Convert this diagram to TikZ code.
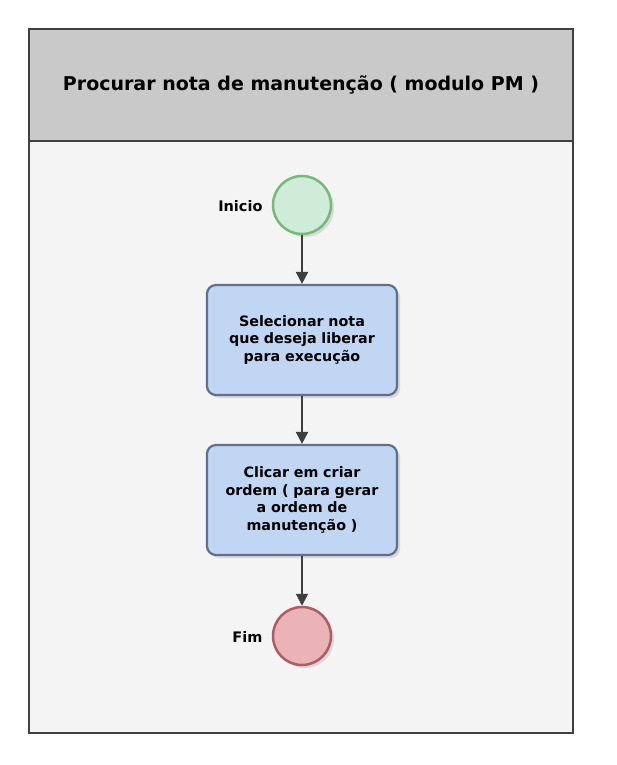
\documentclass[tikz,border=0pt]{standalone}
\usepackage{fontspec}
\setmainfont{DejaVu Sans}
\usepackage{tikz}
\usetikzlibrary{arrows.meta,shadows}
\definecolor{poolline}{RGB}{64,64,64}
\definecolor{poolfill}{RGB}{244,244,244}
\definecolor{headfill}{RGB}{201,201,201}
\definecolor{startfill}{RGB}{206,236,216}
\definecolor{startline}{RGB}{118,186,120}
\definecolor{endfill}{RGB}{234,180,182}
\definecolor{endline}{RGB}{176,92,98}
\definecolor{taskfill}{RGB}{192,214,242}
\definecolor{taskline}{RGB}{96,112,138}
\definecolor{flowline}{RGB}{62,62,62}
\tikzstyle{event}=[circle, minimum size=58pt, inner sep=0pt, line width=2.5pt,
  drop shadow={shadow xshift=3pt, shadow yshift=-3pt, fill=black!25}]
\tikzstyle{task}=[rectangle, rounded corners=9pt, minimum width=190pt, minimum height=110pt,
  text width=175pt, align=center, font=\bfseries\fontsize{14.3}{17.8}\selectfont,
  fill=taskfill, draw=taskline, line width=2.2pt,
  drop shadow={shadow xshift=3pt, shadow yshift=-3pt, fill=black!25}]
\tikzstyle{flow}=[draw=flowline, line width=2pt, -{Triangle[length=12pt,width=12pt]}]
\tikzstyle{evlabel}=[font=\bfseries\fontsize{14.5}{17}\selectfont, anchor=east]

\begin{document}
\begin{tikzpicture}[x=1pt, y=-1pt]
      \useasboundingbox (0,0) rectangle (616,765);

      % pool and header
      \node[draw=poolline, line width=2.5pt, fill=poolfill, minimum width=544pt,
        minimum height=592pt, inner sep=0pt] (pool) at (301,437) {};
      \node[draw=poolline, line width=2.5pt, fill=headfill, minimum width=544pt,
        minimum height=112pt, inner sep=0pt,
        font=\bfseries\fontsize{19}{22}\selectfont] (header) at (301,85)
        {Procurar nota de manutenção ( modulo PM )};

      % events and tasks
      \node[event, fill=startfill, draw=startline] (start) at (302,205) {};
      \node[evlabel] (startlbl) at (266,206) {Inicio};

      \node[task] (task1) at (302,340) {Selecionar nota\\que deseja liberar\\para execução};
      \node[task] (task2) at (302,500) {Clicar em criar\\ordem ( para gerar\\a ordem de\\manutenção )};

      \node[event, fill=endfill, draw=endline] (fim) at (302,636) {};
      \node[evlabel] (fimlbl) at (266,637) {Fim};

      \draw[flow] (start) -- (task1);
      \draw[flow] (task1) -- (task2);
      \draw[flow] (task2) -- (fim);
    \end{tikzpicture}
\end{document}
